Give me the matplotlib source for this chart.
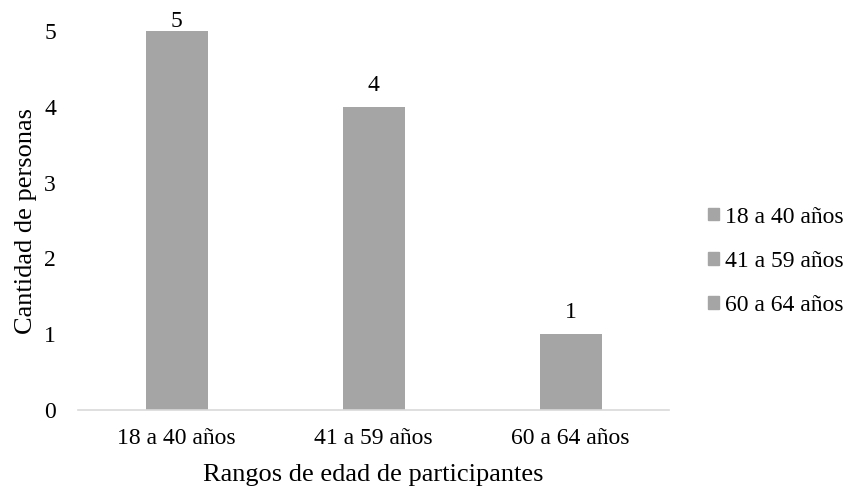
import matplotlib
matplotlib.use("Agg")
from matplotlib import pyplot as plt
import matplotlib.patches as mpatches

categories = ["18 a 40 años", "41 a 59 años", "60 a 64 años"]
values = [5, 4, 1]
y_ticks = [0, 1, 2, 3, 4, 5]

bar_color = "#A5A5A5"

plt.rcParams['font.family'] = ['Liberation Serif', 'DejaVu Serif']

fig = plt.figure(figsize=(8.49, 4.90), dpi=100)
ax = fig.add_axes([0.092, 0.163, 0.696, 0.774])

x = range(len(categories))
bars = ax.bar(x, values, width=0.315, color=bar_color)

ax.set_xlim(-0.5, len(categories) - 0.5)
ax.set_ylim(0, 5)

# data labels: the top one is squeezed against the top of the chart, like Excel does
ymax = ax.get_ylim()[1]
for rect, v in zip(bars, values):
    pad = -0.5 if v >= ymax else 8
    ax.annotate(str(v), (rect.get_x() + rect.get_width() / 2, v),
                xytext=(0, pad), textcoords='offset points',
                ha='center', va='bottom', fontsize=17, annotation_clip=False)

ax.set_yticks(y_ticks)
ax.set_xticks(list(x))
ax.set_xticklabels(categories)
ax.tick_params(axis='both', length=0, labelsize=17)
ax.tick_params(axis='x', pad=13)
ax.tick_params(axis='y', pad=16)

for s in ['top', 'right', 'left']:
    ax.spines[s].set_visible(False)
ax.spines['bottom'].set_color('#D9D9D9')
ax.spines['bottom'].set_linewidth(1.2)

ax.set_xlabel("Rangos de edad de participantes", fontsize=19, labelpad=11)
ax.set_ylabel("Cantidad de personas", fontsize=19, labelpad=5)

handles = [mpatches.Patch(color=bar_color, label=c) for c in categories]
fig.legend(handles=handles, loc='center left', bbox_to_anchor=(0.834, 0.467),
           frameon=False, fontsize=17, handlelength=0.45, handleheight=0.45,
           handletextpad=0.25, labelspacing=0.98, borderpad=0, borderaxespad=0)

fig.savefig("out.png", dpi=100)
